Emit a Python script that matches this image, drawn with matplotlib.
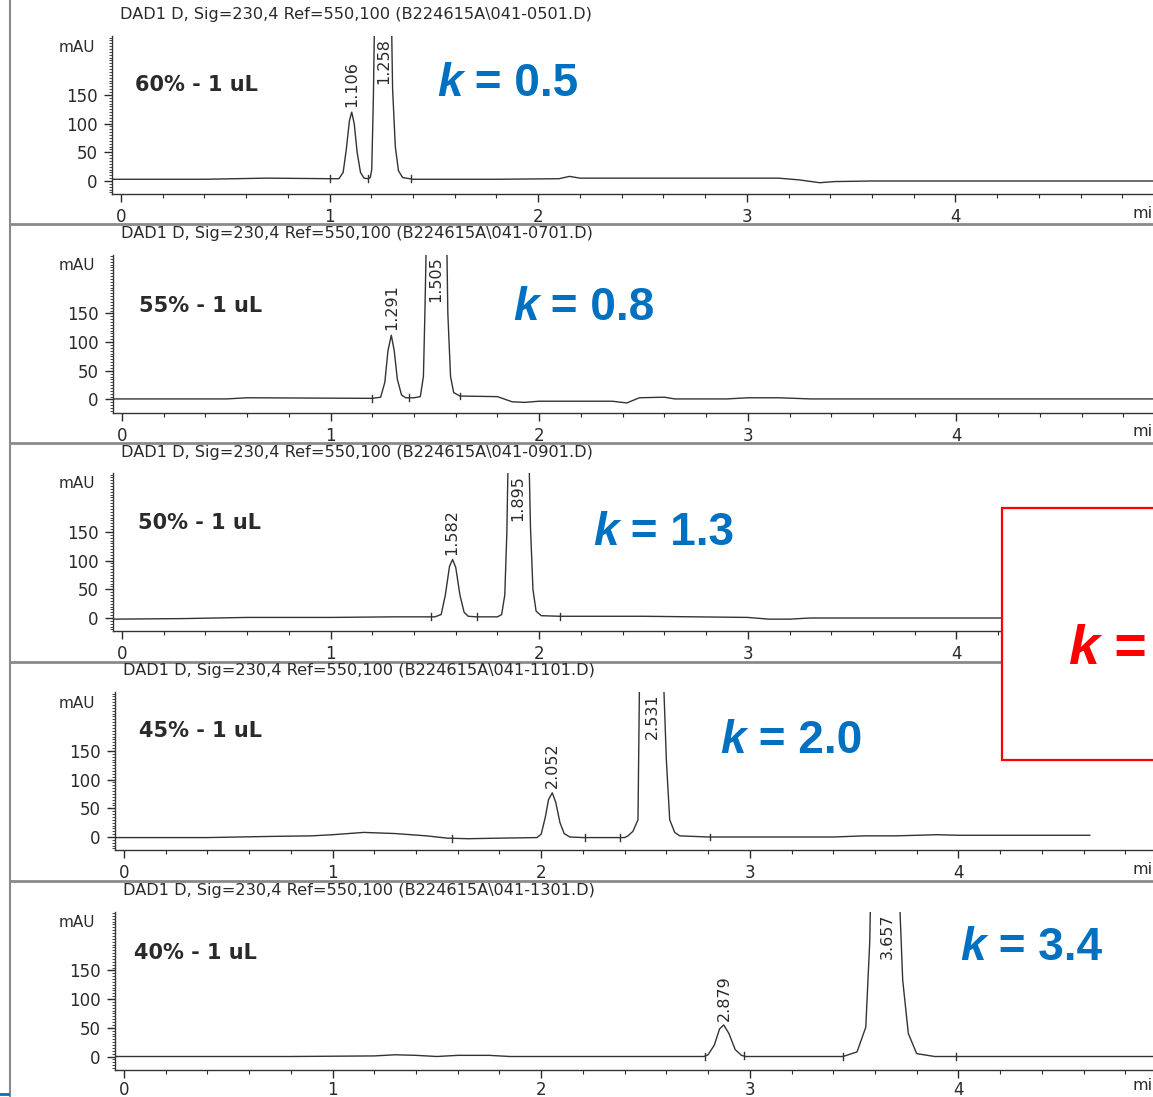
import numpy as np
import matplotlib
matplotlib.use("Agg")
import matplotlib.pyplot as plt
from matplotlib.patches import Rectangle
from matplotlib.lines import Line2D
from matplotlib.text import Annotation
from matplotlib.ticker import MultipleLocator

W, H = 1153, 1097

# ---------------- data ----------------
files = ["041-0501", "041-0701", "041-0901", "041-1101", "041-1301"]
samples = ["60% - 1 uL", "55% - 1 uL", "50% - 1 uL", "45% - 1 uL", "40% - 1 uL"]
k_values = ["0.5", "0.8", "1.3", "2.0", "3.4"]
peak_labels = [["1.106", "1.258"], ["1.291", "1.505"], ["1.582", "1.895"],
               ["2.052", "2.531"], ["2.879", "3.657"]]

# traces: time (min), signal (mAU)
t60 = [-0.04, 0.40, 0.55, 0.70, 1.00, 1.045, 1.065, 1.08, 1.095, 1.106, 1.118, 1.132,
       1.148, 1.165, 1.185, 1.195, 1.202, 1.210, 1.216, 1.254, 1.296, 1.302, 1.315, 1.33,
       1.35, 1.40, 1.80, 2.10, 2.15, 2.20, 2.60, 3.15, 3.25, 3.35, 3.42, 3.60, 4.95]
y60 = [3, 3, 4, 5, 4, 4, 15, 55, 105, 120, 100, 50,
       15, 5, 4, 6, 20, 147, 300, 600, 300, 160, 60, 18,
       6, 3, 3, 4, 8, 5, 5, 5, 2, -3, -1, 0, 0]

t55 = [-0.04, 0.50, 0.60, 1.20, 1.24, 1.26, 1.275, 1.291, 1.305, 1.32, 1.34, 1.36, 1.40,
       1.43, 1.445, 1.452, 1.460, 1.508, 1.556, 1.562, 1.575, 1.59, 1.62, 1.80, 1.87,
       1.93, 2.00, 2.35, 2.42, 2.48, 2.60, 2.65, 2.90, 3.00, 3.15, 3.30, 4.95]
y55 = [1, 1, 3, 2, 4, 30, 85, 112, 85, 35, 8, 3, 3,
       5, 40, 150, 300, 600, 300, 150, 40, 12, 6, 5, -4,
       -5, -3, -3, -6, 3, 4, 1, 1, 3, 3, 1, 1]

t50 = [-0.04, 0.30, 0.60, 1.00, 1.30, 1.50, 1.53, 1.55, 1.57, 1.585, 1.60, 1.62, 1.64,
       1.66, 1.70, 1.80, 1.82, 1.835, 1.845, 1.852, 1.900, 1.950, 1.958, 1.97, 1.985,
       2.01, 2.10, 2.50, 3.00, 3.10, 3.20, 3.30, 4.95]
y50 = [-2, -1, 1, 1, 2, 2, 6, 40, 90, 102, 88, 40, 10,
       3, 2, 2, 6, 40, 150, 300, 600, 300, 160, 50, 12,
       4, 3, 3, 1, -2, -2, 0, 0]

t45 = [-0.04, 0.40, 0.70, 0.90, 1.00, 1.15, 1.30, 1.45, 1.55, 1.65, 1.80, 1.98, 2.00,
       2.02, 2.035, 2.053, 2.07, 2.09, 2.11, 2.137, 2.20, 2.40, 2.416, 2.44, 2.464,
       2.472, 2.528, 2.584, 2.60, 2.616, 2.64, 2.664, 2.80, 3.40, 3.55, 3.70, 3.90, 4.00,
       4.63]
y45 = [-1, -1, 1, 2, 4, 8, 6, 2, -2, -3, -2, -1, 5,
       35, 65, 77, 60, 25, 6, 0, -1, -1, 2, 10, 30,
       300, 600, 300, 134, 30, 8, 2, 0, 0, 2, 2, 4, 3,
       3]

t40 = [-0.04, 0.80, 1.20, 1.30, 1.40, 1.50, 1.60, 1.75, 1.85, 2.00, 2.78, 2.80, 2.83,
       2.855, 2.875, 2.90, 2.93, 2.96, 2.98, 3.20, 3.447, 3.514, 3.556, 3.575, 3.58,
       3.65, 3.715, 3.733, 3.76, 3.80, 3.886, 4.95]
y40 = [0, 0, 1, 3, 2, 0, 2, 2, 0, 0, 0, 3, 20,
       48, 55, 40, 12, 2, 0, 0, 0, 8, 51, 200, 300,
       600, 300, 133, 40, 5, 0, 0]

traces = [(t60, y60), (t55, y55), (t50, y50), (t45, y45), (t40, y40)]

# integration event marks (min)
marks = [[1.00, 1.185, 1.39], [1.20, 1.375, 1.62], [1.48, 1.70, 2.10],
         [1.57, 2.21, 2.38, 2.81], [2.785, 2.97, 3.447, 3.99]]

# ---------------- layout (pixels of the 1153x1097 picture) ----------------
zero_px = [181, 399.5, 618, 837, 1056.5]   # row of 0 mAU in each panel
x0_px = [121, 122, 122, 124, 124]           # column of 0 min
px_min = 208.6
px_mau = 0.574
ylo, yhi = -23, 252
sample_xy = [(135, 85), (139, 306), (138, 523), (139, 731), (134, 953)]
k_xy = [(437, 84), (513, 308), (593, 533), (720, 741), (960, 948)]
xlabel_pad = [4, 4, 4, 4, 2]
show_min = [True, True, False, True, True]   # panel 3 unit is under the red box

ink = "#2a2a2a"
blue = "#0070C0"
chrom_font = "DejaVu Sans"


def fx(x):
    return x / W


def fy(y):
    return 1 - y / H


fig = plt.figure(figsize=(W / 100, H / 100), dpi=100)
fig.patch.set_facecolor("white")

for i in range(5):
    y0, x0 = zero_px[i], x0_px[i]
    left = x0 - 0.043 * px_min
    top = y0 - yhi * px_mau
    bot = y0 - ylo * px_mau
    ax = fig.add_axes([fx(left), fy(bot), (W - left) / W, (bot - top) / H])
    ax.patch.set_visible(False)
    ax.set_xlim(-0.043, (W - x0) / px_min)
    ax.set_ylim(ylo, yhi)

    t, y = traces[i]
    ax.plot(t, y, color="#333333", lw=1.0)
    for m in marks[i]:
        b = np.interp(m, t, y)
        ax.plot([m, m], [b - 6, b + 6], color="#333333", lw=1.0)

    for s in ["top", "right"]:
        ax.spines[s].set_visible(False)
    for s in ["left", "bottom"]:
        ax.spines[s].set_color("#333333")
        ax.spines[s].set_linewidth(1.0)

    ax.set_xticks([0, 1, 2, 3, 4])
    ax.xaxis.set_minor_locator(MultipleLocator(0.2))
    ax.set_yticks([0, 50, 100, 150])
    ax.yaxis.set_minor_locator(MultipleLocator(5))
    ax.tick_params(axis="x", which="major", length=6, width=1.0, pad=xlabel_pad[i],
                   colors=ink, labelsize=12)
    ax.tick_params(axis="x", which="minor", length=3, width=0.8, colors=ink)
    ax.tick_params(axis="y", which="major", length=6, width=1.0, pad=4.5,
                   colors=ink, labelsize=12)
    ax.tick_params(axis="y", which="minor", length=2.5, width=0.6, colors=ink)
    for lab in ax.get_xticklabels() + ax.get_yticklabels():
        lab.set_fontfamily(chrom_font)

    # peak retention time labels
    for lab in peak_labels[i]:
        rt = float(lab)
        h = np.interp(rt, t, y)
        if h > yhi:
            ax.annotate(lab, (rt, yhi), xytext=(0, -1), textcoords="offset points",
                        rotation=90, ha="center", va="top", fontsize=11.5,
                        family=chrom_font, color=ink)
        else:
            ax.annotate(lab, (rt, h), xytext=(0, 4), textcoords="offset points",
                        rotation=90, ha="center", va="bottom", fontsize=11.5,
                        family=chrom_font, color=ink)

    # header text of each chromatogram
    fig.text(fx(x0 - 1), fy(y0 - 166),
             "DAD1 D, Sig=230,4 Ref=550,100 (B224615A\\" + files[i] + ".D)",
             fontsize=11.6, family=chrom_font, color=ink, va="center", ha="left")
    fig.text(fx(95), fy(y0 - 134), "mAU", fontsize=11, family=chrom_font,
             color=ink, va="center", ha="right")
    if show_min[i]:
        fig.text(fx(1133), fy(y0 + 32 - (4 - xlabel_pad[i]) * 1.4), "mi",
                 fontsize=11.5, family=chrom_font, color=ink, va="center",
                 ha="left")
    sx, sy = sample_xy[i]
    fig.text(fx(sx), fy(sy), samples[i], fontsize=15, fontweight="bold",
             family=chrom_font, color=ink, va="center", ha="left")

    # retention factor
    kx, ky = k_xy[i]
    kt = fig.text(fx(kx), fy(ky), "k", fontsize=33, fontweight="bold",
                  style="italic", family="Liberation Sans", color=blue,
                  va="center", ha="left", zorder=5)
    fig.add_artist(Annotation(" = " + k_values[i], xy=(1, 0), xycoords=kt,
                              fontsize=33, fontweight="bold",
                              family="Liberation Sans", color=blue,
                              va="bottom", ha="left", zorder=5))

# panel separators and left border of the scan
for yy in [224, 443, 662, 881]:
    fig.add_artist(Line2D([fx(10), 1], [fy(yy), fy(yy)], color="#8a8a8a", lw=2,
                          transform=fig.transFigure))
fig.add_artist(Line2D([fx(10), fx(10)], [0, 1], color="#8a8a8a", lw=1.5,
                      transform=fig.transFigure))
fig.add_artist(Line2D([0, fx(8)], [fy(1094), fy(1094)], color=blue, lw=2,
                      transform=fig.transFigure))

# highlighted box on the right
fig.add_artist(Rectangle((fx(1002), fy(760)), fx(1180 - 1002), (760 - 508) / H,
                         transform=fig.transFigure, facecolor="white",
                         edgecolor="#ff0000", lw=1.6, zorder=10))
rk = fig.text(fx(1068), fy(650), "k", fontsize=40, fontweight="bold",
              style="italic", family="Liberation Sans", color="#ff0000",
              va="center", ha="left", zorder=11)
fig.add_artist(Annotation(" =", xy=(1, 0), xycoords=rk, fontsize=40,
                          fontweight="bold", family="Liberation Sans",
                          color="#ff0000", va="bottom", ha="left", zorder=11))

fig.savefig("out.png", dpi=100)
